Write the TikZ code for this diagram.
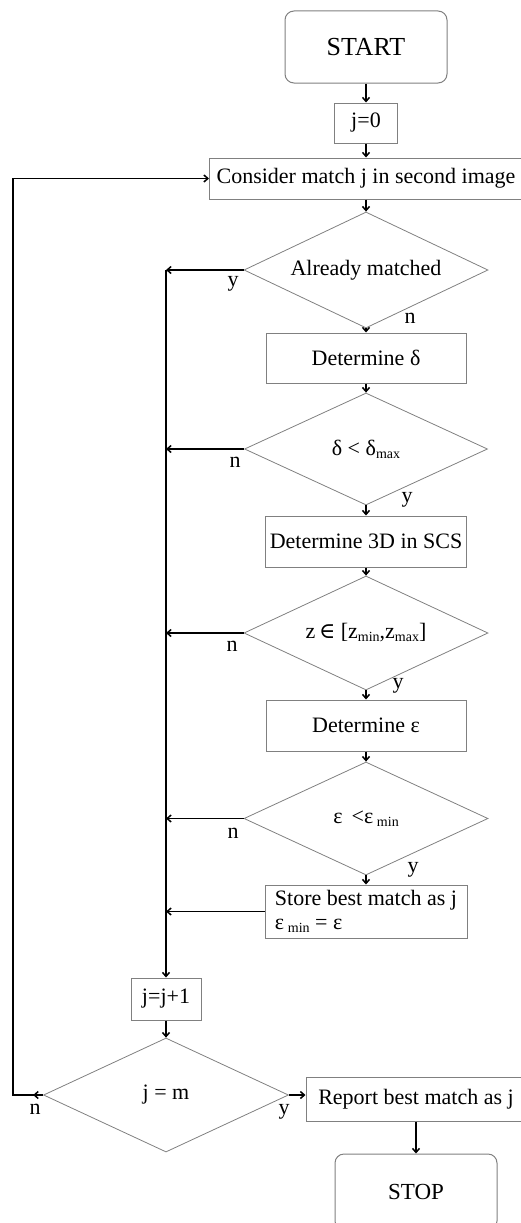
\documentclass[tikz,border=0pt]{standalone}
\usepackage{fontspec}
\setmainfont{Liberation Serif}
\newfontfamily\symfont{DejaVu Serif}
\usetikzlibrary{arrows.meta,positioning,shapes.geometric}

\newcommand{\lowsub}[1]{\raisebox{-0.3ex}{\fontsize{14}{14}\selectfont #1}}
\newcommand{\mainsize}{\fontsize{22}{24}\selectfont}

\tikzset{
  procbox/.style={draw=black!50, line width=1pt, inner sep=0pt, font=\mainsize},
  termbox/.style={procbox, rounded corners=9pt},
  decision/.style={diamond, draw=black!50, line width=0.8pt, inner sep=0pt, aspect=2, font=\mainsize},
  flow/.style={-{Straight Barb[length=4pt,width=7pt]}, line width=1.5pt},
  lbl/.style={inner sep=0pt, font=\mainsize}
}

\begin{document}
\begin{tikzpicture}[x=1pt,y=-1pt]
  \useasboundingbox (0,0) rectangle (520,1223);

  % main column
  \node[termbox, minimum width=162, minimum height=72, font=\fontsize{26}{28}\selectfont] (start) at (366,47) {START};
  \node[procbox, minimum width=63, minimum height=40] (init) at (366,123) {j=0};
  \node[procbox, minimum width=313, minimum height=41] (consider) at (366,178.5) {Consider match j in second image};
  \node[decision, minimum width=244, minimum height=116] (matched) at (366,270) {Already matched};
  \node[procbox, minimum width=200, minimum height=50] (detdelta) at (366,358) {Determine δ};
  \node[decision, minimum width=243, minimum height=112] (chkdelta) at (366,449) {δ < δ\lowsub{max}};
  \node[procbox, minimum width=201, minimum height=51] (det3d) at (366,541.5) {Determine 3D in SCS};
  \node[decision, minimum width=244, minimum height=114] (chkz) at (366,633) {z\,{\symfont ∈} [z\lowsub{min},z\lowsub{max}]};
  \node[procbox, minimum width=200, minimum height=51] (deteps) at (366,725.5) {Determine ε};
  \node[decision, minimum width=244, minimum height=113] (chkeps) at (366,818.5) {ε \,<ε\,\lowsub{min}};
  \node[procbox, minimum width=202, minimum height=53, align=left] (store) at (366,911.5) {Store best match as j\\ε\,\lowsub{min} = ε};

  % counter and exit
  \node[procbox, minimum width=70, minimum height=42] (incr) at (166,999) {j=j+1};
  \node[decision, minimum width=245, minimum height=114] (chkm) at (166,1095) {j = m};
  \node[procbox, minimum width=220, minimum height=44] (report) at (416,1099) {Report best match as j};
  \node[termbox, minimum width=162, minimum height=76, font=\fontsize{23}{25}\selectfont] (stop) at (416,1192) {STOP};

  \coordinate (bus) at (166,0);
  \coordinate (loop) at (13,0);

  % labels
  \node[lbl] (ymatched) at (233,284) {y};
  \node[lbl] (nmatched) at (410,318) {n};
  \node[lbl] (ndelta) at (235,462) {n};
  \node[lbl] (ydelta) at (407,500) {y};
  \node[lbl] (nz) at (232,646) {n};
  \node[lbl] (yz) at (398,686) {y};
  \node[lbl] (neps) at (233,833) {n};
  \node[lbl] (yeps) at (413,870) {y};
  \node[lbl] (nm) at (35,1109) {n};
  \node[lbl] (ym) at (284,1112) {y};

  % connectors
  \draw[flow] (start) -- (init);
  \draw[flow] (init) -- (consider);
  \draw[flow] (consider) -- (matched);
  \draw[flow] (matched) -- (detdelta);
  \draw[flow] (detdelta) -- (chkdelta);
  \draw[flow] (chkdelta) -- (det3d);
  \draw[flow] (det3d) -- (chkz);
  \draw[flow] (chkz) -- (deteps);
  \draw[flow] (deteps) -- (chkeps);
  \draw[flow] (chkeps) -- (store);

  \draw[flow] (matched.west) -- (matched.west -| bus);
  \draw[flow] (chkdelta.west) -- (chkdelta.west -| bus);
  \draw[flow] (chkz.west) -- (chkz.west -| bus);
  \draw[flow] (chkeps.west) -- (chkeps.west -| bus);
  \draw[flow] (store.west) -- (store.west -| bus);
  \draw[flow] (matched.west -| bus) -- (incr.north);
  \draw[flow] (incr) -- (chkm);

  \draw[flow] (chkm.west) -- ++(-10,0);
  \draw[flow] (chkm.west) -- (chkm.west -| loop) |- (consider.west);
  \draw[flow] (chkm.east) -- (chkm.east -| report.west);
  \draw[flow] (report) -- (stop);
\end{tikzpicture}
\end{document}
